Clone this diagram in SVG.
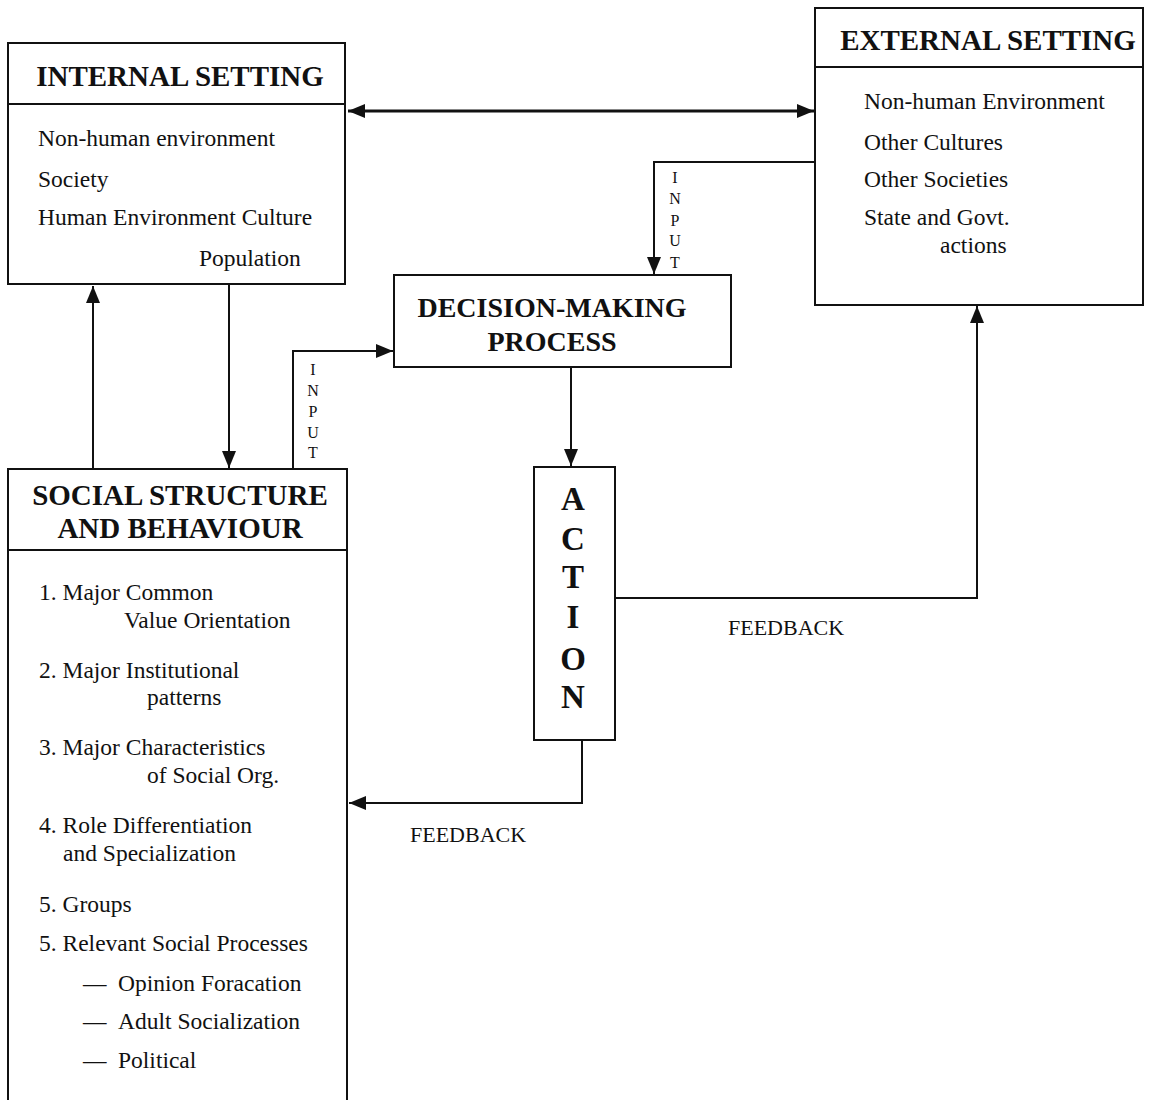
<svg xmlns="http://www.w3.org/2000/svg" width="1151" height="1100" viewBox="0 0 1151 1100">
<style>
.box{fill:#fff;stroke:#111;stroke-width:2}
.div{stroke:#111;stroke-width:2}
.t{font-family:"Liberation Serif","Times New Roman",serif;fill:#111}
.title{font-size:29px;font-weight:bold}
.body{font-size:23.5px}
.inp{font-size:16px;text-anchor:middle}
.act{font-size:33px;font-weight:bold;text-anchor:middle}
.fb{font-size:22px}
.c{fill:none;stroke:#111;stroke-width:2}
</style>
<defs>
<marker id="ah" markerUnits="userSpaceOnUse" markerWidth="18" markerHeight="14" refX="17" refY="7" orient="auto-start-reverse">
<path d="M0,0 L17,7 L0,14 z" fill="#111"/>
</marker>
</defs>
<rect width="1151" height="1100" fill="#fff"/>

<g id="connectors">
<path class="c" style="stroke-width:3" d="M348 111 H814" marker-start="url(#ah)" marker-end="url(#ah)"/>
<path class="c" d="M815 162 H654 V274" marker-end="url(#ah)"/>
<path class="c" d="M293 469 V351 H393" marker-end="url(#ah)"/>
<path class="c" d="M93 469 V286" marker-end="url(#ah)"/>
<path class="c" d="M229 284 V468" marker-end="url(#ah)"/>
<path class="c" d="M571 367 V466" marker-end="url(#ah)"/>
<path class="c" d="M615 598 H977 V306" marker-end="url(#ah)"/>
<path class="c" d="M582 740 V803 H349" marker-end="url(#ah)"/>
<g class="t inp">
<text x="675" y="183">I</text><text x="675" y="204">N</text><text x="675" y="226">P</text><text x="675" y="246">U</text><text x="675" y="268">T</text>
<text x="313" y="375">I</text><text x="313" y="396">N</text><text x="313" y="417">P</text><text x="313" y="438">U</text><text x="313" y="458">T</text>
</g>
<text class="t fb" x="728" y="635">FEEDBACK</text>
<text class="t fb" x="410" y="842">FEEDBACK</text>
</g>

<g id="internal-setting">
<rect class="box" x="8" y="43" width="337" height="241"/>
<line class="div" x1="8" y1="104" x2="345" y2="104"/>
<text class="t title" x="180" y="86" text-anchor="middle">INTERNAL SETTING</text>
<text class="t body" x="38" y="146">Non-human environment</text>
<text class="t body" x="38" y="187">Society</text>
<text class="t body" x="38" y="225">Human Environment Culture</text>
<text class="t body" x="199" y="266">Population</text>
</g>

<g id="external-setting">
<rect class="box" x="815" y="8" width="328" height="297"/>
<line class="div" x1="815" y1="67" x2="1143" y2="67"/>
<text class="t title" x="988" y="50" text-anchor="middle">EXTERNAL SETTING</text>
<text class="t body" x="864" y="109">Non-human Environment</text>
<text class="t body" x="864" y="150">Other Cultures</text>
<text class="t body" x="864" y="187">Other Societies</text>
<text class="t body" x="864" y="225">State and Govt.</text>
<text class="t body" x="940" y="253">actions</text>
</g>

<g id="decision-making">
<rect class="box" x="394" y="275" width="337" height="92"/>
<text class="t title" x="552" y="317" text-anchor="middle" style="font-size:28px">DECISION-MAKING</text>
<text class="t title" x="552" y="351" text-anchor="middle" style="font-size:28px">PROCESS</text>
</g>

<g id="action">
<rect class="box" x="534" y="467" width="81" height="273"/>
<text class="t act" x="573" y="510">A</text>
<text class="t act" x="573" y="550">C</text>
<text class="t act" x="573" y="588">T</text>
<text class="t act" x="573" y="628">I</text>
<text class="t act" x="573" y="670">O</text>
<text class="t act" x="573" y="708">N</text>
</g>

<g id="social-structure">
<rect class="box" x="8" y="469" width="339" height="640"/>
<line class="div" x1="8" y1="550" x2="347" y2="550"/>
<text class="t title" x="180" y="505" text-anchor="middle">SOCIAL STRUCTURE</text>
<text class="t title" x="180" y="538" text-anchor="middle">AND BEHAVIOUR</text>
<text class="t body" x="39" y="600">1. Major Common</text>
<text class="t body" x="124" y="628">Value Orientation</text>
<text class="t body" x="39" y="678">2. Major Institutional</text>
<text class="t body" x="147" y="705">patterns</text>
<text class="t body" x="39" y="755">3. Major Characteristics</text>
<text class="t body" x="147" y="783">of Social Org.</text>
<text class="t body" x="39" y="833">4. Role Differentiation</text>
<text class="t body" x="63" y="861">and Specialization</text>
<text class="t body" x="39" y="912">5. Groups</text>
<text class="t body" x="39" y="951">5. Relevant Social Processes</text>
<text class="t body" y="991"><tspan x="83">—</tspan><tspan x="118">Opinion Foracation</tspan></text>
<text class="t body" y="1029"><tspan x="83">—</tspan><tspan x="118">Adult Socialization</tspan></text>
<text class="t body" y="1068"><tspan x="83">—</tspan><tspan x="118">Political</tspan></text>
</g>
</svg>
